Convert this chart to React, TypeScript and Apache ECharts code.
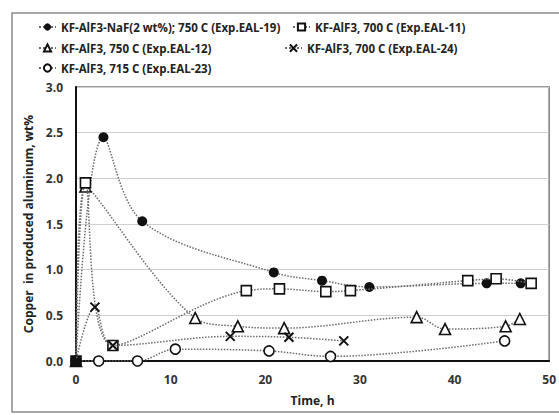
import React, { useEffect, useRef } from "react";
import * as echarts from "echarts";

const seriesNames = [
  "KF-AlF3-NaF(2 wt%); 750 C (Exp.EAL-19)",
  "KF-AlF3, 700 C (Exp.EAL-11)",
  "KF-AlF3, 750 C (Exp.EAL-12)",
  "KF-AlF3, 700 C (Exp.EAL-24)",
  "KF-AlF3, 715 C (Exp.EAL-23)",
];

const x19 = [0, 2.9, 7.0, 20.9, 26.0, 31.0, 43.4, 47.0, 48.1];
const y19 = [0, 2.45, 1.53, 0.97, 0.88, 0.81, 0.85, 0.85, 0.85];

const x11 = [0, 1.0, 3.9, 18.0, 21.5, 26.4, 29.0, 41.4, 44.4, 48.1];
const y11 = [0, 1.95, 0.17, 0.77, 0.79, 0.76, 0.77, 0.88, 0.9, 0.85];

const x12 = [0, 1.0, 12.6, 17.1, 22.0, 36.0, 39.0, 45.4, 46.9];
const y12 = [0, 1.91, 0.47, 0.38, 0.36, 0.48, 0.35, 0.38, 0.46];

const x24 = [0, 2.0, 3.9, 16.3, 22.5, 28.3];
const y24 = [0, 0.59, 0.17, 0.27, 0.26, 0.22];

const x23 = [0, 2.4, 6.5, 10.5, 20.4, 26.9, 45.3];
const y23 = [0, 0, 0, 0.13, 0.11, 0.05, 0.22];

const xTicks = [0, 10, 20, 30, 40, 50];
const yTicks = [0, 0.5, 1.0, 1.5, 2.0, 2.5, 3.0];

const pairs = (xs: number[], ys: number[]) => xs.map((x, i) => [x, ys[i]]);

const FONT = "Open Sans";

export default function App() {
  const ref = useRef<HTMLDivElement>(null);

  useEffect(() => {
    if (!ref.current) return;
    const chart = echarts.init(ref.current, null, { renderer: "svg" });

    const lineStyle = { color: "#6a6a6a", width: 1.5, type: "dotted" as const };
    const markerBase = (sym: string, size: number, fill: string, stroke: string, bw: number) => ({
      symbol: sym,
      symbolSize: size,
      itemStyle: { color: fill, borderColor: stroke, borderWidth: bw },
    });

    const styles = [
      markerBase("circle", 10, "#111", "#111", 0),
      markerBase("rect", 10, "#fff", "#111", 1.6),
      markerBase("triangle", 11, "#fff", "#111", 1.6),
      markerBase("path://M0 0L10 10M10 0L0 10", 9, "none", "#111", 2),
      markerBase("circle", 10, "#fff", "#111", 1.6),
    ];
    const datas: any[][] = [pairs(x19, y19), pairs(x11, y11), pairs(x12, y12), pairs(x24, y24), pairs(x23, y23)];
    // origin point drawn as a filled square (overlapping markers)
    datas[1] = datas[1].map((p, i) => (i === 0 ? { value: p, itemStyle: { color: "#111" } } : p));
    const zs = [6, 9, 5, 10, 3];

    const series = seriesNames.map((name, i) => ({
      name,
      type: "line" as const,
      smooth: 0.35,
      data: datas[i],
      lineStyle,
      ...styles[i],
      z: zs[i],
    }));

    const legendPos = [
      { left: 38, top: 21 },
      { left: 292, top: 21 },
      { left: 38, top: 42 },
      { left: 284, top: 42 },
      { left: 38, top: 62 },
    ];

    const legends = seriesNames.map((name, i) => ({
      data: [name],
      left: legendPos[i].left,
      top: legendPos[i].top,
      itemWidth: 17,
      itemHeight: 9,
      padding: 0,
      selectedMode: false,
      textStyle: { fontFamily: FONT, fontWeight: "bold", fontSize: 11.5, color: "#222" },
    }));

    chart.setOption({
      animation: false,
      backgroundColor: "#fff",
      graphic: [
        {
          type: "rect",
          shape: { x: 12, y: 13, width: 560, height: 399 },
          style: { fill: "none", stroke: "#8a8a8a", lineWidth: 1.5 },
          silent: true,
          z: 0,
        },
      ],
      legend: legends,
      grid: {
        left: 76,
        top: 87,
        width: 476,
        height: 274,
        show: true,
        borderColor: "#7a7a7a",
        borderWidth: 1.5,
        backgroundColor: "transparent",
      },
      xAxis: {
        type: "value",
        min: xTicks[0],
        max: xTicks[xTicks.length - 1],
        interval: 10,
        name: "Time, h",
        nameLocation: "middle",
        nameGap: 33,
        nameTextStyle: { fontFamily: FONT, fontWeight: "bold", fontSize: 12, color: "#222" },
        axisLine: { show: true, lineStyle: { color: "#111", width: 2 } },
        axisTick: { show: false },
        splitLine: { show: false },
        axisLabel: {
          fontFamily: FONT,
          fontWeight: "bold",
          fontSize: 12,
          color: "#333",
          margin: 12,
        },
      },
      yAxis: {
        type: "value",
        min: yTicks[0],
        max: yTicks[yTicks.length - 1],
        interval: 0.5,
        name: "Copper  in produced aluminum, wt%",
        nameLocation: "middle",
        nameGap: 36,
        nameTextStyle: { fontFamily: FONT, fontWeight: "bold", fontSize: 12, color: "#222" },
        axisLine: { show: true, lineStyle: { color: "#111", width: 2 } },
        axisTick: { show: false },
        splitLine: { show: true, lineStyle: { color: "#cfcfcf", width: 1.2 } },
        axisLabel: {
          fontFamily: FONT,
          fontWeight: "bold",
          fontSize: 12,
          color: "#333",
          margin: 13,
          formatter: (v: number) => v.toFixed(1),
        },
      },
      series,
    });

    return () => chart.dispose();
  }, []);

  return (
    <div
      ref={ref}
      style={{ position: "fixed", left: 0, top: 0, width: 559, height: 415, background: "#fff" }}
    />
  );
}
